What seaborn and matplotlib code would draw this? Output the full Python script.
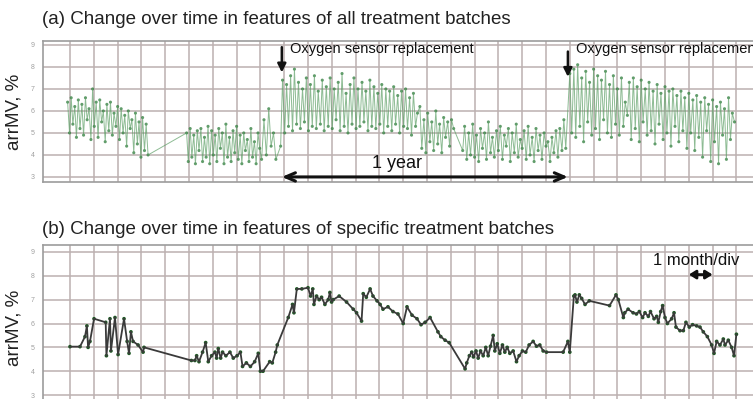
import matplotlib
matplotlib.use("Agg")
import matplotlib.pyplot as plt
import seaborn as sns
import pandas as pd

# ---- data: x in months, y in arrMV % ----
# (a) all treatment batches, six runs of batches
a_seg1_x = [-0.10, -0.02, 0.05, 0.12, 0.20, 0.27, 0.35, 0.42, 0.50, 0.57,
            0.65, 0.72, 0.80, 0.88, 0.95, 1.02, 1.10, 1.18, 1.25, 1.33,
            1.40, 1.48, 1.55, 1.63, 1.70, 1.78, 1.85, 1.93, 2.00, 2.08,
            2.15, 2.23, 2.30, 2.38, 2.45, 2.53, 2.60, 2.68, 2.75, 2.83,
            2.90, 2.98, 3.05, 3.13, 3.20, 3.28]
a_seg1_y = [6.4, 5.0, 6.6, 5.4, 6.2, 4.8, 6.5, 5.2, 6.3, 4.9,
            6.6, 5.6, 6.1, 4.7, 7.0, 5.3, 6.4, 4.8, 6.5, 5.5,
            6.0, 4.6, 6.3, 5.1, 6.4, 4.9, 5.9, 5.3, 6.2, 4.7,
            6.1, 5.0, 5.8, 4.4, 6.0, 5.2, 5.6, 4.1, 5.9, 4.5,
            5.5, 3.9, 5.7, 4.2, 5.4, 4.0]

a_seg2_x = [4.90, 4.97, 5.05, 5.12, 5.20, 5.27, 5.35, 5.42, 5.50, 5.57,
            5.65, 5.72, 5.80, 5.87, 5.95, 6.02, 6.10, 6.17, 6.25, 6.32,
            6.40, 6.47, 6.55, 6.62, 6.70, 6.77, 6.85, 6.92, 7.00, 7.07,
            7.15, 7.22, 7.30, 7.37, 7.45, 7.52, 7.60, 7.67, 7.75, 7.82,
            7.90, 7.97, 8.05, 8.15, 8.25, 8.35, 8.45, 8.55, 8.65]
a_seg2_y = [5.0, 3.7, 5.2, 3.9, 4.9, 3.6, 5.1, 4.2, 5.2, 3.7,
            4.8, 3.9, 5.3, 3.6, 5.1, 4.0, 4.9, 3.7, 5.2, 4.3,
            5.0, 3.6, 5.4, 3.9, 4.8, 3.7, 5.1, 4.1, 5.3, 3.8,
            4.9, 3.6, 5.0, 4.2, 4.7, 3.7, 5.2, 3.9, 4.6, 3.6,
            5.0, 4.3, 3.8, 5.6, 4.0, 6.1, 4.4, 5.0, 3.8]

a_seg3_x = [8.85, 8.93, 9.02, 9.10, 9.18, 9.27, 9.35, 9.43, 9.52, 9.60,
            9.68, 9.77, 9.85, 9.93, 10.02, 10.10, 10.18, 10.27, 10.35, 10.43,
            10.52, 10.60, 10.68, 10.77, 10.85, 10.93, 11.02, 11.10, 11.18, 11.27,
            11.35, 11.43, 11.52, 11.60, 11.68, 11.77, 11.85, 11.93, 12.02, 12.10,
            12.18, 12.27, 12.35, 12.43, 12.52, 12.60, 12.68, 12.77, 12.85, 12.93,
            13.02, 13.10, 13.18, 13.27, 13.35, 13.43, 13.52, 13.60, 13.68, 13.77,
            13.85, 13.93, 14.02, 14.10, 14.18, 14.27, 14.35, 14.43, 14.52, 14.60]
a_seg3_y = [4.4, 7.4, 5.0, 7.2, 5.3, 7.6, 5.1, 7.9, 5.4, 7.3,
            5.2, 7.0, 5.5, 7.5, 5.1, 7.2, 5.3, 7.6, 5.2, 6.9,
            5.4, 7.4, 5.1, 7.1, 5.3, 7.5, 5.2, 7.0, 5.6, 7.3,
            5.1, 7.7, 5.3, 6.8, 5.0, 7.2, 5.4, 7.5, 5.2, 7.0,
            5.3, 7.3, 5.5, 6.9, 5.1, 7.4, 5.3, 7.1, 5.2, 6.8,
            5.4, 7.2, 5.0, 7.0, 5.3, 6.9, 5.1, 7.1, 5.4, 6.7,
            5.0, 6.9, 5.3, 7.0, 5.2, 6.6, 4.9, 6.8, 5.3, 5.9]

a_seg4_x = [14.70, 14.78, 14.87, 14.95, 15.03, 15.12, 15.20, 15.28, 15.37, 15.45,
            15.53, 15.62, 15.70, 15.78, 15.87, 15.95, 16.03, 16.12]
a_seg4_y = [6.2, 4.3, 5.6, 4.1, 5.9, 4.6, 5.5, 4.2, 6.0, 4.5,
            5.4, 4.1, 5.7, 4.8, 5.5, 4.4, 5.6, 5.2]

a_seg5_x = [16.50, 16.58, 16.67, 16.75, 16.83, 16.92, 17.00, 17.08, 17.17, 17.25,
            17.33, 17.42, 17.50, 17.58, 17.67, 17.75, 17.83, 17.92, 18.00, 18.08,
            18.17, 18.25, 18.33, 18.42, 18.50, 18.58, 18.67, 18.75, 18.83, 18.92,
            19.00, 19.08, 19.17, 19.25, 19.33, 19.42, 19.50, 19.58, 19.67, 19.75,
            19.83, 19.92, 20.00, 20.08, 20.17, 20.25, 20.33, 20.42, 20.50, 20.58,
            20.67, 20.75, 20.83]
a_seg5_y = [4.2, 5.3, 3.8, 5.0, 4.0, 5.4, 3.9, 4.9, 3.7, 5.2,
            4.3, 5.0, 3.8, 5.5, 4.1, 4.8, 3.9, 5.1, 4.2, 5.3,
            3.8, 4.9, 4.4, 5.2, 3.7, 5.0, 4.1, 5.4, 3.9, 4.7,
            4.3, 5.1, 3.8, 5.3, 4.0, 4.8, 3.7, 5.2, 4.2, 4.9,
            3.8, 5.0, 4.4, 4.6, 3.7, 4.8, 4.1, 5.1, 3.9, 5.2,
            4.2, 5.6, 4.3]

a_seg6_x = [21.00, 21.08, 21.17, 21.25, 21.33, 21.42, 21.50, 21.58, 21.67, 21.75,
            21.83, 21.92, 22.00, 22.08, 22.17, 22.25, 22.33, 22.42, 22.50, 22.58,
            22.67, 22.75, 22.83, 22.92, 23.00, 23.08, 23.17, 23.25, 23.33, 23.42,
            23.50, 23.58, 23.67, 23.75, 23.83, 23.92, 24.00, 24.08, 24.17, 24.25,
            24.33, 24.42, 24.50, 24.58, 24.67, 24.75, 24.83, 24.92, 25.00, 25.08,
            25.17, 25.25, 25.33, 25.42, 25.50, 25.58, 25.67, 25.75, 25.83, 25.92,
            26.00, 26.08, 26.17, 26.25, 26.33, 26.42, 26.50, 26.58, 26.67, 26.75,
            26.83, 26.92, 27.00, 27.08, 27.17, 27.25, 27.33, 27.42, 27.50, 27.58,
            27.67, 27.75, 27.83, 27.92]
a_seg6_y = [7.7, 5.0, 7.9, 4.8, 8.1, 5.3, 7.5, 4.6, 7.8, 5.5,
            7.3, 4.9, 7.9, 5.2, 7.6, 4.7, 7.4, 5.6, 7.8, 5.0,
            7.2, 4.8, 7.6, 5.4, 7.0, 4.9, 7.5, 5.3, 6.4, 5.8,
            7.3, 4.7, 7.5, 5.2, 7.1, 4.6, 7.4, 5.5, 7.0, 4.9,
            7.3, 5.1, 6.9, 4.5, 7.2, 5.4, 6.8, 4.7, 7.1, 5.0,
            6.9, 4.4, 7.0, 5.3, 6.7, 4.6, 6.9, 5.1, 6.6, 4.3,
            6.8, 5.0, 6.5, 4.2, 6.7, 4.8, 6.4, 3.9, 6.6, 5.1,
            6.3, 3.7, 6.5, 4.6, 6.2, 3.6, 6.4, 4.9, 6.1, 3.8,
            6.6, 4.7, 5.9, 5.5]

# (b) specific treatment batches
b_x = [0.00, 0.42, 0.63, 0.71, 0.76, 0.84, 1.01, 1.50, 1.53, 1.68,
       1.72, 1.89, 2.02, 2.27, 2.40, 2.48, 2.56, 2.65, 2.86, 3.07,
       3.11, 5.10, 5.25, 5.32, 5.42, 5.57, 5.70, 5.81, 5.95, 6.09,
       6.16, 6.23, 6.33, 6.41, 6.55, 6.72, 6.86, 7.02, 7.16, 7.25,
       7.41, 7.58, 7.76, 7.91, 8.00, 8.11, 8.39, 8.50, 8.64, 8.71,
       9.17, 9.35, 9.41, 9.53, 9.74, 10.00, 10.11, 10.20, 10.25, 10.36,
       10.47, 10.57, 10.71, 10.85, 10.92, 10.99, 11.06, 11.31, 11.62, 11.90,
       12.04, 12.25, 12.32, 12.45, 12.61, 12.73, 12.90, 13.03, 13.15, 13.36,
       13.57, 13.78, 14.00, 14.16, 14.37, 14.58, 14.75, 14.92, 15.13, 15.46,
       15.58, 15.76, 15.93, 16.60, 16.67, 16.78, 16.88, 16.95, 17.06, 17.15,
       17.25, 17.36, 17.47, 17.57, 17.67, 17.78, 17.85, 17.95, 18.06, 18.17,
       18.27, 18.37, 18.48, 18.62, 18.76, 18.87, 19.01, 19.15, 19.29, 19.46,
       19.60, 19.74, 19.88, 20.02, 20.72, 20.92, 21.00, 21.17, 21.22, 21.30,
       21.40, 21.50, 21.64, 21.82, 22.67, 22.94, 23.04, 23.25, 23.31, 23.45,
       23.66, 23.80, 23.92, 24.06, 24.16, 24.30, 24.39, 24.54, 24.65, 24.72,
       24.82, 24.90, 25.00, 25.10, 25.28, 25.38, 25.46, 25.63, 25.77, 25.88,
       26.02, 26.16, 26.33, 26.47, 26.61, 26.78, 26.96, 27.06, 27.17, 27.31,
       27.45, 27.52, 27.66, 27.80, 27.90, 28.00]
b_y = [5.03, 5.03, 5.45, 5.9, 5.0, 5.25, 6.2, 6.05, 4.65, 6.2,
       4.85, 6.25, 4.7, 6.2, 5.25, 4.75, 5.65, 5.25, 5.1, 4.8,
       5.0, 4.45, 4.45, 4.65, 4.4, 4.8, 5.2, 4.4, 4.65, 4.8,
       4.55, 4.95, 4.55, 4.8, 4.65, 4.8, 4.55, 4.65, 4.8, 4.2,
       4.35, 4.2, 4.4, 4.75, 4.0, 4.0, 4.4, 4.35, 4.8, 5.1,
       6.25, 6.8, 6.45, 7.45, 7.45, 7.5, 7.15, 7.45, 6.8, 7.15,
       7.0, 7.1, 6.8, 7.0, 7.3, 6.9, 7.0, 7.15, 6.9, 6.6,
       6.45, 6.1, 7.25, 7.1, 7.45, 7.15, 6.95, 6.8, 6.6, 6.7,
       6.5, 6.4, 6.0, 6.7, 6.35, 6.2, 5.95, 6.05, 6.25, 5.65,
       5.45, 5.3, 5.2, 4.1, 4.35, 4.65, 4.8, 4.6, 4.85, 4.55,
       4.85, 4.65, 5.0, 4.65, 5.05, 5.5, 4.85, 5.15, 4.75, 5.1,
       4.8, 5.0, 4.75, 4.85, 4.4, 4.65, 4.85, 4.8, 5.1, 5.25,
       5.05, 5.1, 4.85, 4.8, 4.8, 5.25, 4.8, 7.15, 7.2, 6.9,
       7.2, 7.05, 6.8, 6.95, 6.75, 7.2, 7.0, 6.25, 6.45, 6.6,
       6.45, 6.4, 6.5, 6.25, 6.45, 6.3, 6.5, 6.2, 6.3, 6.05,
       6.5, 6.75, 6.25, 6.0, 6.2, 6.45, 5.85, 5.7, 5.7, 6.05,
       5.85, 5.95, 5.9, 5.85, 5.65, 5.45, 5.1, 4.75, 5.25, 5.1,
       5.35, 5.1, 5.3, 5.0, 4.65, 5.55]

y_ticks = [3, 4, 5, 6, 7, 8, 9]
y_tick_labels = ["3", "4", "5", "6", "7", "8", "9"]
month_grid = list(range(0, 30))

title_a = "(a) Change over time in features of all treatment batches"
title_b = "(b) Change over time in features of specific treatment batches"
y_label = "arrMV, %"
sensor_text = "Oxygen sensor replacement"
sensor_months = [8.9, 20.92]

df_a = pd.DataFrame({
    "month": a_seg1_x + a_seg2_x + a_seg3_x + a_seg4_x + a_seg5_x + a_seg6_x,
    "arrMV": a_seg1_y + a_seg2_y + a_seg3_y + a_seg4_y + a_seg5_y + a_seg6_y,
})
df_b = pd.DataFrame({"month": b_x, "arrMV": b_y})

sns.set_style("white")
plt.rcParams["font.family"] = ["Liberation Sans", "DejaVu Sans"]

W, H = 753, 399
fig = plt.figure(figsize=(W / 100, H / 100), dpi=100)
month_px = 23.8  # one grid division in pixels
x0_px = 70


def px_to_month(px):
    return (px - x0_px) / month_px


def style_axes(ax, ylim):
    ax.set_xlim(px_to_month(43), px_to_month(775))
    ax.set_ylim(*ylim)
    ax.set_xticks(month_grid)
    ax.set_yticks(y_ticks)
    ax.set_yticklabels(y_tick_labels)
    ax.grid(True, color="#bcb0b0", lw=1.1)
    ax.tick_params(axis="x", length=0, labelbottom=False)
    ax.tick_params(axis="y", direction="out", length=4, width=1,
                   color="#a8a8a8", labelsize=5, labelcolor="#a0a0a0", pad=2)
    for s in ax.spines.values():
        s.set_color("#9c9c9c")
        s.set_linewidth(1.2)
    ax.spines["right"].set_visible(False)
    ax.set_xlabel("")
    ax.set_ylabel(y_label, fontsize=13.5, color="#222222", labelpad=6)


# ---- panel (a) ----
ax_a = fig.add_axes([43 / W, 1 - 182 / H, (775 - 43) / W, 141 / H])
sns.lineplot(data=df_a, x="month", y="arrMV", sort=False, estimator=None,
             color="#5d9f66", lw=0.7, alpha=0.7, ax=ax_a)
sns.scatterplot(data=df_a, x="month", y="arrMV", color="#2f7d3c", s=5,
                alpha=0.75, edgecolor="none", ax=ax_a)
style_axes(ax_a, (2.77, 9.18))

for i, m in enumerate(sensor_months):
    top = 8.9 if i == 0 else 8.7
    ax_a.annotate("", xy=(m, top - 1.15), xytext=(m, top),
                  arrowprops=dict(arrowstyle="-|>,head_width=0.25,head_length=0.5",
                                  color="#111111", lw=1.8, shrinkA=0, shrinkB=0))
    ax_a.text(m + 0.33, 8.8, sensor_text, fontsize=10.5, color="#111111",
              ha="left", va="center")

ax_a.annotate("", xy=(sensor_months[0], 3.0), xytext=(sensor_months[1], 3.0),
              arrowprops=dict(arrowstyle="<->,head_width=0.3,head_length=0.7",
                              color="#111111", lw=2.2, shrinkA=0, shrinkB=0))
ax_a.text(13.75, 3.62, "1 year", fontsize=13, color="#111111",
          ha="center", va="center")

fig.text(42 / W, 1 - 20 / H, title_a, fontsize=13.5, color="#222222",
         ha="left", va="center")

# ---- panel (b) ----
ax_b = fig.add_axes([43 / W, 1 - 410 / H, (775 - 43) / W, 165 / H])
sns.lineplot(data=df_b, x="month", y="arrMV", sort=False, estimator=None,
             color="#3a3a3a", lw=1.3, ax=ax_b)
sns.scatterplot(data=df_b, x="month", y="arrMV", color="#1f5a25", s=7,
                edgecolor="none", ax=ax_b)
style_axes(ax_b, (2.375, 9.29))

ax_b.text(26.3, 8.66, "1 month/div", fontsize=12, color="#111111",
          ha="center", va="center")
ax_b.annotate("", xy=(26.0, 8.05), xytext=(27.0, 8.05),
              arrowprops=dict(arrowstyle="<|-|>,head_width=0.25,head_length=0.4",
                              color="#111111", lw=2.0, shrinkA=0, shrinkB=0))

fig.text(42 / W, 1 - 230 / H, title_b, fontsize=13.5, color="#222222",
         ha="left", va="center")

fig.savefig("out.png", dpi=100)
